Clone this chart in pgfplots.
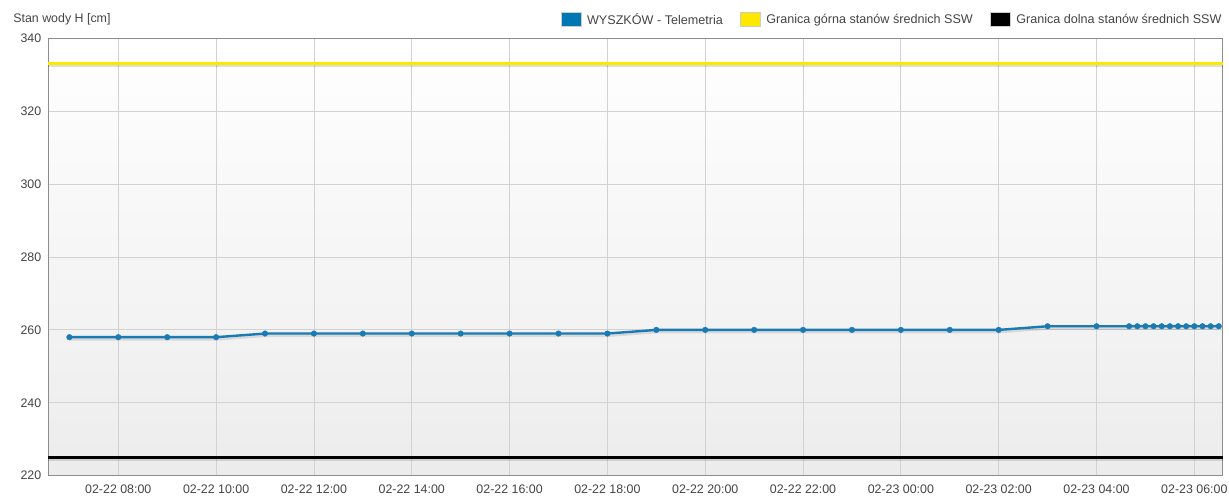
\documentclass[border=0pt]{standalone}
\usepackage{fontspec}
\setmainfont{Liberation Sans}
\usepackage{pgfplots}
\pgfplotsset{compat=1.18}
\usepackage{pgfplotstable}
\definecolor{wblue}{RGB}{26,122,180}
\definecolor{wlegblue}{RGB}{0,119,181}
\definecolor{wyellow}{RGB}{255,232,0}
\definecolor{txt}{RGB}{68,68,68}
\definecolor{gridc}{RGB}{210,210,210}
\definecolor{axc}{RGB}{140,140,140}
\definecolor{bgbot}{RGB}{236,236,236}

% hours since 02-22 00:00, water level H [cm]
\pgfplotstableread{
h H
7 258
8 258
9 258
10 258
11 259
12 259
13 259
14 259
15 259
16 259
17 259
18 259
19 260
20 260
21 260
22 260
23 260
24 260
25 260
26 260
27 261
28 261
28.6667 261
28.8333 261
29 261
29.1667 261
29.3333 261
29.5 261
29.6667 261
29.8333 261
30 261
30.1667 261
30.3333 261
30.5 261
}\wyszkow

\pgfplotstableread{
h H
6.569 333
30.58 333
}\gorna

\pgfplotstableread{
h H
6.569 225
30.58 225
}\dolna

\begin{document}
\begin{tikzpicture}
\begin{axis}[
  scale only axis, width=1174.4pt, height=437.4pt,
  xmin=6.569, xmax=30.58, ymin=220, ymax=340,
  ytick={220,240,...,340},
  xtick={8,10,...,30},
  xticklabels={02-22 08:00,02-22 10:00,02-22 12:00,02-22 14:00,02-22 16:00,02-22 18:00,02-22 20:00,02-22 22:00,02-23 00:00,02-23 02:00,02-23 04:00,02-23 06:00},
  grid=major,
  major grid style={draw=gridc, line width=0.8pt},
  axis line style={draw=axc, line width=1.3pt},
  tick style={draw=none},
  ticklabel style={font=\fontsize{12.4}{14}\selectfont, text=txt},
  /pgf/number format/assume math mode=true,
  yticklabel style={xshift=-3.5pt},
  xticklabel style={yshift=-6pt},
  axis background/.style={shade, top color=white, bottom color=bgbot},
  clip=false,
  legend style={at={(rel axis cs:1,1)}, anchor=east, xshift=1pt, yshift=18.6pt,
    draw=none, fill=none, inner sep=0pt, font=\fontsize{12.6}{14}\selectfont, text=txt,
    legend columns=-1,
    /tikz/every odd column/.append style={column sep=4pt},
    /tikz/every even column/.append style={column sep=15pt}},
  legend cell align=left,
]
% legend images
\addlegendimage{legend image code/.code={\draw[draw=gray!40, fill=wlegblue] (0pt,-7pt) rectangle (20pt,7pt);}}
\addlegendentry{WYSZKÓW - Telemetria}
\addlegendimage{legend image code/.code={\draw[draw=gray!40, fill=wyellow] (0pt,-7pt) rectangle (20pt,7pt);}}
\addlegendentry{Granica górna stanów średnich SSW}
\addlegendimage{legend image code/.code={\draw[draw=gray!40, fill=black] (0pt,-7pt) rectangle (20pt,7pt);}}
\addlegendentry{Granica dolna stanów średnich SSW}

% shadows
\addplot[forget plot, draw=black, opacity=0.12, line width=3pt, yshift=-2pt] table[x=h,y=H] {\gorna};
\addplot[forget plot, draw=black, opacity=0.12, line width=3pt, yshift=-2pt] table[x=h,y=H] {\dolna};
\addplot[forget plot, draw=black, opacity=0.10, line width=3pt, yshift=-2pt] table[x=h,y=H] {\wyszkow};
% lines
\addplot[forget plot, draw=wyellow, line width=3pt] table[x=h,y=H] {\gorna};
\addplot[forget plot, draw=black, line width=2.6pt] table[x=h,y=H] {\dolna};
\addplot[forget plot, draw=wblue, line width=2.4pt, mark=*, mark size=2.8pt, mark options={solid, fill=wblue, draw=wblue, line width=0.4pt}] table[x=h,y=H] {\wyszkow};

\node[anchor=base west, font=\fontsize{12.4}{14}\selectfont, text=txt] at (rel axis cs:0,1) [xshift=-38.5pt, yshift=16pt] {Stan wody H [cm]};
\end{axis}
\pgfresetboundingbox
\path[use as bounding box] ([xshift=-48.3pt,yshift=-21.3pt]current axis.south west) rectangle ([xshift=6.3pt,yshift=38.3pt]current axis.north east);
\end{tikzpicture}
\end{document}
